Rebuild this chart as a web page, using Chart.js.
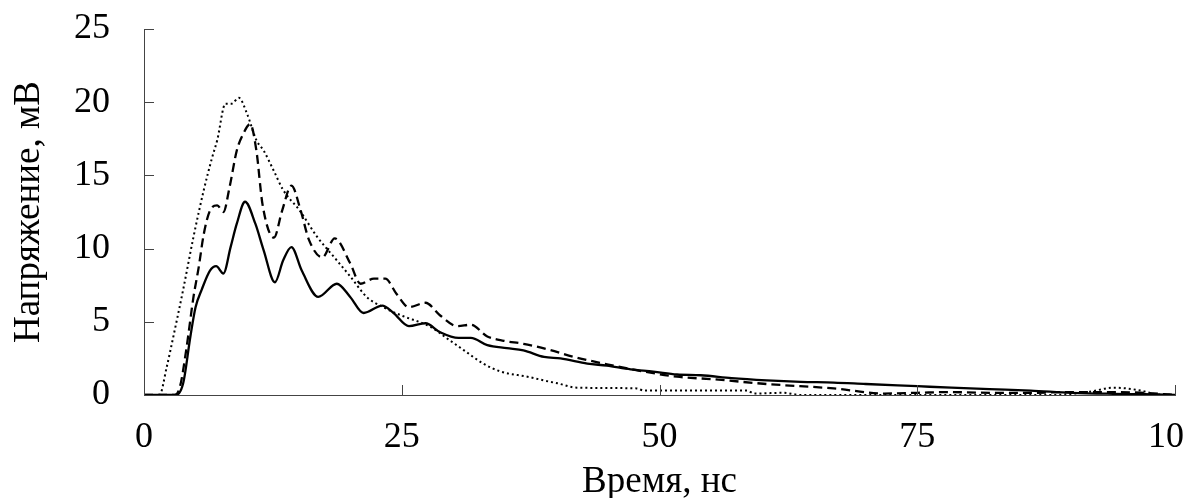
<!DOCTYPE html>
<html>
<head>
<meta charset="utf-8">
<script src="https://cdn.jsdelivr.net/npm/chart.js@4"></script>
<style>
  html, body { margin: 0; padding: 0; background: #fff; overflow: hidden; }
  #wrap { width: 1202px; height: 498px; }
</style>
</head>
<body>
<div id="wrap"><canvas id="pulseChart"></canvas></div>
<script>
// DATA (время, нс / напряжение, мВ)
const solidTime = [0, 3.0, 3.8, 4.5, 5.0, 5.6, 6.4, 7.0, 7.7, 8.4, 9.0, 9.8, 10.8, 11.6, 12.7, 13.5, 14.3, 15.3, 16.9, 18.7, 20.0, 21.3, 23.1, 24.2, 25.7, 27.3, 28.7, 30.5, 31.7, 33.3, 35.2, 36.8, 38.8, 40.4, 43.0, 44.9, 47.2, 49.4, 51.7, 54.0, 57.0, 60.4, 63.7, 66.9, 70.0, 75.0, 78.3, 82.0, 86.0, 90.0, 94.0, 97.0, 100];
const solidVolt = [0, 0, 0.8, 4.0, 6.0, 7.2, 8.5, 8.8, 8.3, 10.1, 11.7, 13.2, 11.7, 9.9, 7.7, 9.2, 10.1, 8.5, 6.7, 7.6, 6.7, 5.6, 6.1, 5.6, 4.7, 4.9, 4.3, 3.9, 3.9, 3.4, 3.2, 3.05, 2.6, 2.5, 2.15, 2.0, 1.75, 1.6, 1.4, 1.35, 1.15, 1.0, 0.9, 0.85, 0.75, 0.6, 0.5, 0.4, 0.3, 0.15, 0.08, 0.05, 0];

const dashTime = [0, 3.0, 3.5, 4.1, 4.8, 5.3, 5.8, 6.4, 7.1, 7.7, 8.3, 9.0, 9.6, 10.3, 10.9, 11.5, 12.6, 13.4, 14.3, 15.2, 16.0, 17.3, 18.5, 20.0, 21.0, 22.3, 23.4, 24.5, 25.7, 27.3, 28.7, 30.4, 31.7, 33.3, 34.9, 36.8, 39.4, 41.7, 44.9, 48.5, 51.7, 55.3, 60.4, 66.9, 71.8, 75.0, 78.0, 82.0, 86.0, 90.0, 94.0, 97.0, 100];
const dashVolt = [0, 0, 0.6, 3.1, 6.7, 8.7, 11.0, 12.6, 12.95, 12.5, 14.2, 16.7, 17.8, 18.5, 16.7, 13.0, 10.75, 12.6, 14.3, 12.6, 10.6, 9.4, 10.7, 9.0, 7.6, 7.95, 7.95, 6.9, 6.0, 6.3, 5.45, 4.7, 4.8, 4.0, 3.7, 3.5, 3.07, 2.6, 2.1, 1.6, 1.25, 1.07, 0.75, 0.45, 0.1, 0.15, 0.2, 0.15, 0.15, 0.2, 0.2, 0.15, 0];

const dotTime = [0, 1.5, 2.2, 2.85, 3.8, 4.8, 5.8, 6.6, 7.1, 7.9, 8.5, 9.2, 10.0, 10.9, 11.6, 12.6, 13.5, 15.1, 16.8, 18.7, 20.0, 21.6, 23.2, 24.9, 27.8, 29.4, 31.0, 32.9, 34.6, 37.2, 39.4, 40.1, 42.0, 47.8, 48.5, 55.9, 58.5, 59.2, 62.0, 63.7, 70, 80, 88, 91.5, 94.1, 96.7, 98, 100];
const dotVolt = [0, 0, 1.9, 4.0, 7.2, 10.8, 14.0, 16.2, 17.4, 19.9, 19.9, 20.3, 19.2, 17.4, 16.7, 15.3, 14.0, 12.6, 10.8, 9.2, 8.1, 6.7, 6.0, 5.45, 4.65, 3.86, 3.07, 2.15, 1.6, 1.25, 0.9, 0.8, 0.5, 0.45, 0.3, 0.3, 0.3, 0.1, 0.15, 0, 0, 0, 0, 0.2, 0.5, 0.3, 0.07, 0];

const xTicks = [0, 25, 50, 75, 100];
const yTicks = [0, 5, 10, 15, 20, 25];

function toPoints(ts, vs) {
  return ts.map(function (t, i) { return { x: t, y: vs[i] }; });
}

const FONT = "'Liberation Serif', 'Times New Roman', serif";

// inner tick marks
const innerTicks = {
  id: "innerTicks",
  afterDraw(chart) {
    const ctx = chart.ctx;
    const xs = chart.scales.x;
    const ys = chart.scales.y;
    const area = chart.chartArea;
    ctx.save();
    ctx.strokeStyle = "#444";
    ctx.lineWidth = 1;
    ctx.beginPath();
    xTicks.forEach(function (v) {
      const px = Math.round(xs.getPixelForValue(v)) + 0.5;
      ctx.moveTo(px, area.bottom);
      ctx.lineTo(px, area.bottom - 10);
    });
    yTicks.forEach(function (v) {
      const py = Math.round(ys.getPixelForValue(v)) + 0.5;
      ctx.moveTo(area.left, py);
      ctx.lineTo(area.left + 10, py);
    });
    ctx.stroke();
    ctx.restore();
  }
};

const ctx = document.getElementById("pulseChart").getContext("2d");

new Chart(ctx, {
  type: "line",
  data: {
    datasets: [
      {
        data: toPoints(solidTime, solidVolt),
        borderColor: "#000",
        borderWidth: 2.3
      },
      {
        data: toPoints(dashTime, dashVolt),
        borderColor: "#000",
        borderWidth: 2.3,
        borderDash: [9, 5]
      },
      {
        data: toPoints(dotTime, dotVolt),
        borderColor: "#000",
        borderWidth: 2,
        borderDash: [2, 3]
      }
    ]
  },
  options: {
    responsive: true,
    maintainAspectRatio: false,
    animation: false,
    layout: { padding: { top: 29, left: 0, bottom: 0, right: 0 } },
    elements: {
      point: { radius: 0 },
      line: { cubicInterpolationMode: "monotone", fill: false }
    },
    plugins: {
      legend: { display: false },
      tooltip: { enabled: false }
    },
    scales: {
      x: {
        type: "linear",
        min: 0,
        max: 100,
        afterFit(scale) {
          scale.height = 103;
          scale.paddingLeft = 0;
          scale.paddingRight = 27;
        },
        afterBuildTicks(scale) { scale.ticks = xTicks.map(function (v) { return { value: v }; }); },
        grid: { display: false, drawTicks: false },
        border: { display: true, color: "#444", width: 1 },
        ticks: { color: "#000", padding: 21, maxRotation: 0, font: { family: FONT, size: 36 } },
        title: {
          display: true,
          text: "Время, нс",
          color: "#000",
          padding: { top: 0, bottom: -6 },
          font: { family: FONT, size: 37 }
        }
      },
      y: {
        min: 0,
        max: 25,
        afterFit(scale) {
          scale.width = 144;
          scale.paddingTop = 0;
          scale.paddingBottom = 0;
        },
        afterBuildTicks(scale) { scale.ticks = yTicks.map(function (v) { return { value: v }; }); },
        grid: { display: false, drawTicks: false },
        border: { display: true, color: "#444", width: 1 },
        ticks: { color: "#000", padding: 34, font: { family: FONT, size: 36 } },
        title: {
          display: true,
          text: "Напряжение, мВ",
          color: "#000",
          padding: { top: 7, bottom: 0 },
          font: { family: FONT, size: 37 }
        }
      }
    }
  },
  plugins: [innerTicks]
});
</script>
</body>
</html>
